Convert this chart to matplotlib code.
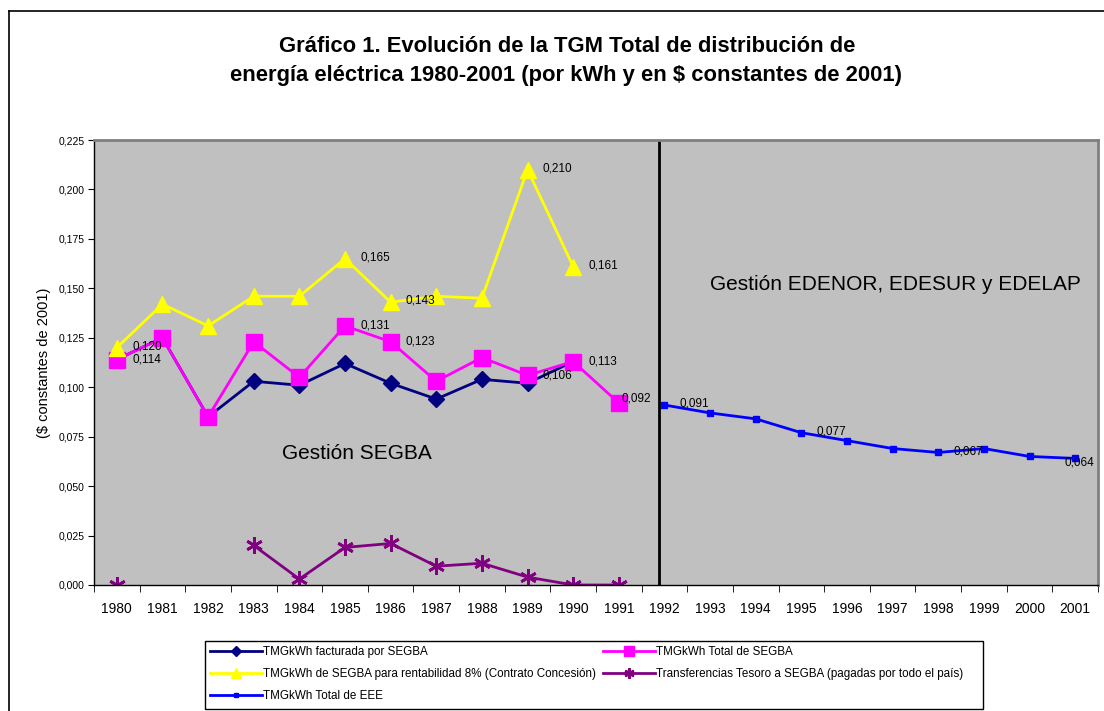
# -*- coding: utf-8 -*-

import numpy as np
import matplotlib.pyplot as plt
from matplotlib.lines import Line2D
from matplotlib.patches import Rectangle

plt.rcParams['font.family'] = ['Liberation Sans', 'DejaVu Sans']

years = [str(y) for y in range(1980, 2002)]

facturada = [0.114, 0.125, 0.085, 0.103, 0.101, 0.112, 0.102, 0.094, 0.104,
             0.102, 0.113]
total_segba = [0.114, 0.125, 0.085, 0.123, 0.105, 0.131, 0.123, 0.103, 0.115,
               0.106, 0.113, 0.092]
rentabilidad = [0.120, 0.142, 0.131, 0.146, 0.146, 0.165, 0.143, 0.146, 0.145,
                0.210, 0.161]
transferencias = [0.000, np.nan, np.nan, 0.020, 0.003, 0.019, 0.021, 0.0095,
                  0.011, 0.004, 0.000, 0.000]
total_eee = [0.091, 0.087, 0.084, 0.077, 0.073, 0.069, 0.067, 0.069, 0.065,
             0.064]

labels_segba = {0: '0,114', 5: '0,131', 6: '0,123', 9: '0,106', 10: '0,113'}
labels_rent = {0: '0,120', 5: '0,165', 6: '0,143', 9: '0,210', 10: '0,161'}
labels_eee = {0: '0,091', 3: '0,077', 6: '0,067'}

navy = '#000080'
pink = '#FF00FF'
yellow = '#FFFF00'
purple = '#800080'
blue = '#0000FF'

fig = plt.figure(figsize=(11.04, 7.11), dpi=100)
ax = fig.add_axes([94/1104, 1-585/711, (1098-94)/1104, (585-140)/711])
ax.set_facecolor('#C0C0C0')

x_segba = np.arange(12)
x_eee = np.arange(12, 22)

ax.plot(x_segba[:len(facturada)], facturada, color=navy, lw=2, marker='D',
        ms=8, label='TMGkWh facturada por SEGBA')
ax.plot(x_segba, total_segba, color=pink, lw=2, marker='s', ms=11,
        label='TMGkWh Total de SEGBA')
ax.plot(x_segba[:len(rentabilidad)], rentabilidad, color=yellow, lw=2,
        marker='^', ms=12,
        label='TMGkWh de SEGBA para rentabilidad 8% (Contrato Concesión)')
ax.plot(x_segba, transferencias, color=purple, lw=2, marker=(6, 2, 0),
        ms=12, mew=2,
        label='Transferencias Tesoro a SEGBA (pagadas por todo el país)')
ax.plot(x_eee, total_eee, color=blue, lw=2, marker='s', ms=4,
        label='TMGkWh Total de EEE')

# data labels
lab_kw = dict(textcoords='offset points', fontsize=8.5, va='center',
              ha='left', color='black')
for i, txt in labels_rent.items():
    ax.annotate(txt, (i, rentabilidad[i]), xytext=(11, 1), **lab_kw)
for i, txt in labels_segba.items():
    ax.annotate(txt, (i, total_segba[i]), xytext=(11, 0), **lab_kw)
ax.annotate('0,092', (11, total_segba[11]), xytext=(2, 3), **lab_kw)
for i, txt in labels_eee.items():
    ax.annotate(txt, (12 + i, total_eee[i]), xytext=(11, 1), **lab_kw)
ax.annotate('0,064', (21, total_eee[9]), xytext=(-8, -3), **lab_kw)

# separation between periods
ax.axvline(11.87, color='black', lw=2)
ax.text(5.27, 0.0665, 'Gestión SEGBA', fontsize=15, ha='center',
        va='center')
ax.text(12.99, 0.152, 'Gestión EDENOR, EDESUR y EDELAP', fontsize=15,
        ha='left', va='center')

ax.set_xlim(-0.5, 21.5)
ax.set_ylim(0, 0.225)
ax.set_xticks(np.arange(22))
ax.set_xticklabels(years, fontsize=10)
ax.set_xticks(np.arange(-0.5, 22, 1), minor=True)
ax.tick_params(axis='x', which='major', length=0, pad=12)
ax.tick_params(axis='x', which='minor', length=5, direction='out',
               color='black')
yt = np.arange(0, 0.226, 0.025)
ax.set_yticks(yt)
ax.set_yticklabels(['{:.3f}'.format(v).replace('.', ',') for v in yt],
                   fontsize=7.5)
ax.tick_params(axis='y', length=4, direction='out', pad=3)
ax.set_ylabel('($ constantes de 2001)', fontsize=10.5, labelpad=5)

for side in ['top', 'right']:
    ax.spines[side].set_color('#808080')
    ax.spines[side].set_linewidth(2)
for side in ['left', 'bottom']:
    ax.spines[side].set_color('black')
    ax.spines[side].set_linewidth(1)

fig.text(567/1104, 1-46/711,
         'Gráfico 1. Evolución de la TGM Total de distribución de',
         fontsize=15.8, fontweight='bold', ha='center', va='center')
fig.text(566/1104, 1-76/711,
         'energía eléctrica 1980-2001 (por kWh y en $ constantes de 2001)',
         fontsize=15.8, fontweight='bold', ha='center', va='center')

# outer chart border (cut off at right and bottom)
fig.add_artist(Line2D([9/1104, 9/1104], [0, 1-11/711], color='black',
                      lw=1.2, transform=fig.transFigure))
fig.add_artist(Line2D([9/1104, 1], [1-11/711, 1-11/711], color='black',
                      lw=1.2, transform=fig.transFigure))

handles, labels = ax.get_legend_handles_labels()
order = [0, 2, 4, 1, 3]
leg = fig.legend([handles[k] for k in order], [labels[k] for k in order],
                 loc='upper left', bbox_to_anchor=(205/1104, 1-641/711),
                 ncol=2, fontsize=8.4, frameon=False,
                 handlelength=4.4, handletextpad=0.15,
                 columnspacing=0.6, borderaxespad=0, borderpad=0.45,
                 labelspacing=0.85, markerscale=0.6)

# legend box is wider than its entries
fig.add_artist(Rectangle((205/1104, 1-709/711), (983-205)/1104, 68/711,
                         transform=fig.transFigure, fill=False,
                         edgecolor='black', lw=1))

fig.savefig('out.png', dpi=100)
